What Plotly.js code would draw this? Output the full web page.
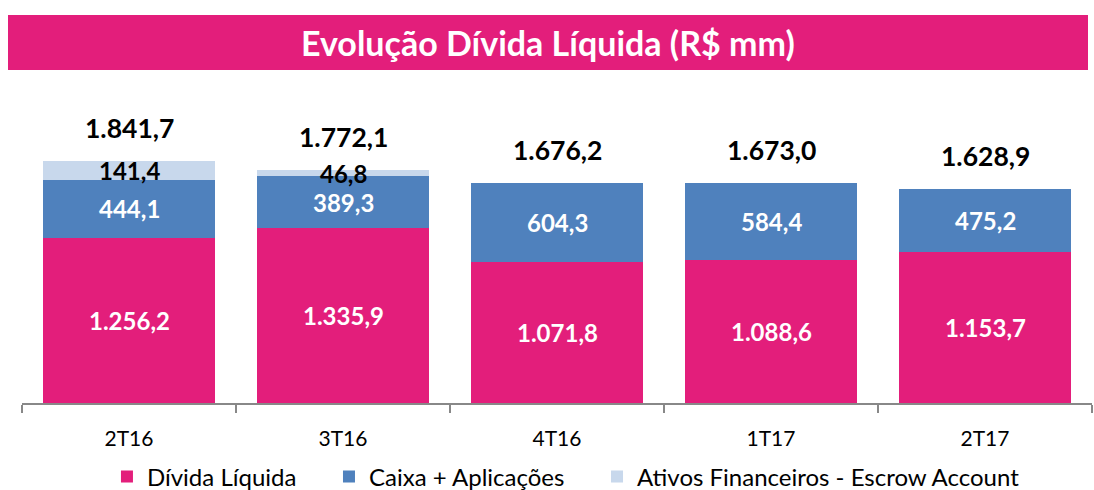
<!DOCTYPE html>
<html>
<head>
<meta charset="utf-8">
<script src="https://cdn.plot.ly/plotly-3.0.1.min.js"></script>
<style>html,body{margin:0;padding:0;background:#fff;}#chart{width:1094px;height:490px;}</style>
</head>
<body>
<div id="chart"></div>
<script>
const categories = ['2T16', '3T16', '4T16', '1T17', '2T17'];
const dividaLiquida = [1256.2, 1335.9, 1071.8, 1088.6, 1153.7];
const caixaAplicacoes = [444.1, 389.3, 604.3, 584.4, 475.2];
const ativosEscrow = [141.4, 46.8, null, null, null];
const totals = [1841.7, 1772.1, 1676.2, 1673.0, 1628.9];
const seriesNames = ['Dívida Líquida', 'Caixa + Aplicações', 'Ativos Financeiros - Escrow Account'];
const titleText = 'Evolução Dívida Líquida (R$ mm)';

const PINK = '#E31E7B', BLUE = '#4F81BD', LIGHT = '#C8D8EC';
const FONT = 'Lato, "Open Sans", sans-serif';

function fmt(v) {
  const parts = v.toFixed(1).split('.');
  parts[0] = parts[0].replace(/\B(?=(\d{3})+(?!\d))/g, '.');
  return parts[0] + ',' + parts[1];
}

const traces = [
  {type: 'bar', name: seriesNames[0], x: categories, y: dividaLiquida, marker: {color: PINK}, hoverinfo: 'none', legend: 'legend'},
  {type: 'bar', name: seriesNames[1], x: categories, y: caixaAplicacoes, marker: {color: BLUE}, hoverinfo: 'none', legend: 'legend2'},
  {type: 'bar', name: seriesNames[2], x: categories, y: ativosEscrow, marker: {color: LIGHT}, hoverinfo: 'none', legend: 'legend3'}
];

const annotations = [];
categories.forEach((c, i) => {
  const a = dividaLiquida[i], b = caixaAplicacoes[i], e = ativosEscrow[i];
  annotations.push({x: c, y: a / 2, text: '<b>' + fmt(a) + '</b>', showarrow: false,
    font: {family: FONT, size: 24, color: '#fff'}, yanchor: 'middle'});
  annotations.push({x: c, y: a + b / 2, text: '<b>' + fmt(b) + '</b>', showarrow: false,
    font: {family: FONT, size: 24, color: '#fff'}, yanchor: 'middle'});
  if (e) {
    annotations.push({x: c, y: a + b + e / 2, text: '<b>' + fmt(e) + '</b>', showarrow: false,
      font: {family: FONT, size: 24, color: '#000'}, yanchor: 'middle'});
  }
  annotations.push({x: c, y: totals[i], text: '<b>' + fmt(totals[i]) + '</b>', showarrow: false,
    font: {family: FONT, size: 26.5, color: '#000'}, yanchor: 'middle', yshift: 33});
});
annotations.push({xref: 'paper', yref: 'paper', x: 0.4916, y: 1.116, text: '<b>' + titleText + '</b>',
  showarrow: false, font: {family: FONT, size: 34, color: '#fff'}, xanchor: 'center', yanchor: 'middle'});

const legendBase = {orientation: 'h', xanchor: 'left', y: -0.229, yanchor: 'middle',
  font: {family: FONT, size: 24, color: '#000'}, itemwidth: 30, bgcolor: 'rgba(0,0,0,0)'};

const layout = {
  width: 1094, height: 490,
  margin: {l: 22, r: 2, t: 80, b: 87, autoexpand: false},
  paper_bgcolor: '#fff', plot_bgcolor: '#fff',
  barmode: 'stack', bargap: 0.2,
  showlegend: true,
  legend: Object.assign({}, legendBase, {x: 0.0794}),
  legend2: Object.assign({}, legendBase, {x: 0.2869}),
  legend3: Object.assign({}, legendBase, {x: 0.5374}),
  xaxis: {type: 'category', showline: true, linecolor: '#888', linewidth: 1.5,
    ticks: 'outside', tickson: 'boundaries', ticklen: 8, tickcolor: '#888', tickwidth: 1.5,
    tickfont: {family: FONT, size: 21, color: '#000'}, ticklabelstandoff: 16, fixedrange: true},
  yaxis: {range: [0, 2460], visible: false, showgrid: false, zeroline: false, fixedrange: true},
  shapes: [{type: 'rect', xref: 'paper', yref: 'paper', x0: -0.01308, x1: 0.99626, y0: 1.031, y1: 1.2012,
    fillcolor: PINK, line: {width: 0}, layer: 'below'}],
  annotations: annotations
};

Plotly.newPlot('chart', traces, layout, {displayModeBar: false, staticPlot: true});
</script>
</body>
</html>
